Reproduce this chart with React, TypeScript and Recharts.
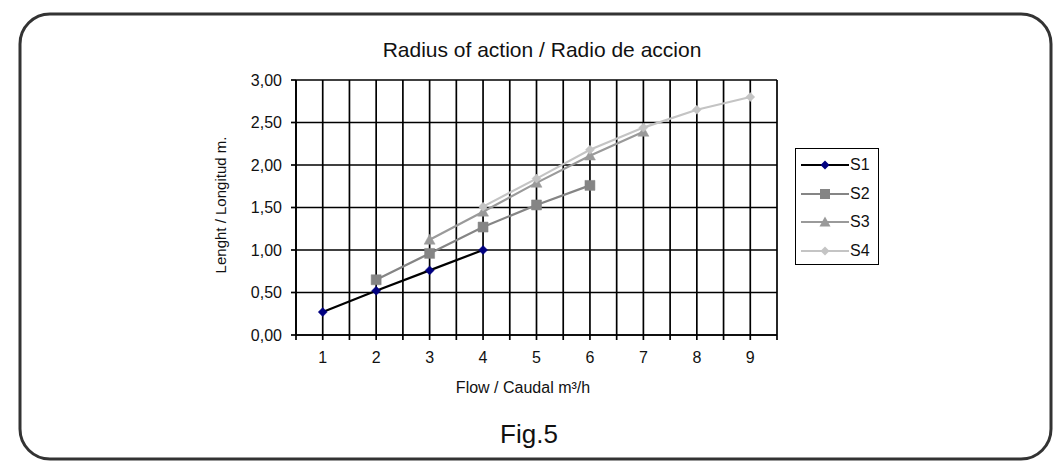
import React from 'react';
import { LineChart, Line, XAxis, YAxis, CartesianGrid, Legend } from 'recharts';

const categories = [1, 2, 3, 4, 5, 6, 7, 8, 9];
const s1Values: (number | null)[] = [0.27, 0.52, 0.76, 1.0, null, null, null, null, null];
const s2Values: (number | null)[] = [null, 0.65, 0.96, 1.27, 1.53, 1.76, null, null, null];
const s3Values: (number | null)[] = [null, null, 1.12, 1.45, 1.79, 2.11, 2.39, null, null];
const s4Values: (number | null)[] = [null, null, null, 1.51, 1.84, 2.18, 2.44, 2.65, 2.8];
const xTicks = [0.5, 1, 1.5, 2, 2.5, 3, 3.5, 4, 4.5, 5, 5.5, 6, 6.5, 7, 7.5, 8, 8.5, 9, 9.5];
const yTicks = [0, 0.5, 1, 1.5, 2, 2.5, 3];

const data = categories.map((c, i) => ({
  x: c,
  S1: s1Values[i],
  S2: s2Values[i],
  S3: s3Values[i],
  S4: s4Values[i],
}));

const FONT = '"Liberation Sans", Arial, sans-serif';

const series = [
  { key: 'S1', stroke: '#000000', fill: '#000080', shape: 'diamond', size: 4.5 },
  { key: 'S2', stroke: '#858585', fill: '#858585', shape: 'square', size: 5 },
  { key: 'S3', stroke: '#9a9a9a', fill: '#9a9a9a', shape: 'triangle', size: 5.5 },
  { key: 'S4', stroke: '#c4c4c4', fill: '#c4c4c4', shape: 'diamond', size: 4.5 },
];

function markerPath(shape: string, cx: number, cy: number, r: number) {
  if (shape === 'diamond') return `M${cx},${cy - r}L${cx + r},${cy}L${cx},${cy + r}L${cx - r},${cy}Z`;
  if (shape === 'square') return `M${cx - r},${cy - r}H${cx + r}V${cy + r}H${cx - r}Z`;
  return `M${cx},${cy - r}L${cx + r},${cy + r * 0.8}L${cx - r},${cy + r * 0.8}Z`;
}

const makeDot = (s: typeof series[number]) => (props: any) => {
  const { cx, cy, index, value } = props;
  if (value == null || cx == null || cy == null) return <g key={`${s.key}-${index}`} />;
  return <path key={`${s.key}-${index}`} d={markerPath(s.shape, cx, cy, s.size)} fill={s.fill} stroke={s.fill} strokeWidth={0.5} />;
};

const LegendBox = () => (
  <div style={{ position: 'relative', width: 84, height: 117, border: '1.5px solid #000', boxSizing: 'border-box', background: '#fff', fontFamily: FONT, fontSize: 16 }}>
    {series.map((s, i) => (
      <div key={s.key} style={{ position: 'absolute', left: 5, top: 6 + i * 28.5, height: 20, display: 'flex', alignItems: 'center' }}>
        <svg width={48} height={20}>
          <line x1={0} y1={10} x2={48} y2={10} stroke={s.stroke} strokeWidth={2} />
          <path d={markerPath(s.shape, 24, 10, s.size)} fill={s.fill} />
        </svg>
        <span style={{ marginLeft: 1, color: '#111' }}>{s.key}</span>
      </div>
    ))}
  </div>
);

export default function App() {
  return (
    <div style={{ position: 'absolute', left: 0, top: 0, width: 1057, height: 462, background: '#fff' }}>
      <svg width={1057} height={462} style={{ position: 'absolute', left: 0, top: 0 }}>
        <rect x={20} y={14} width={1031} height={445} rx={30} ry={30} fill="#fff" stroke="#333" strokeWidth={3} />
      </svg>
      <div style={{ position: 'absolute', left: 0, top: 0 }}>
        <LineChart width={1057} height={462} data={data} margin={{ top: 80, right: 196, bottom: 97, left: 236 }}>
          <CartesianGrid stroke="#000" strokeWidth={1.7} horizontal vertical />
          <XAxis
            dataKey="x"
            type="number"
            domain={[0.5, 9.5]}
            ticks={xTicks}
            interval={0}
            allowDecimals
            tickFormatter={(v: number) => (Number.isInteger(v) ? String(v) : '')}
            tick={{ fill: '#111', fontSize: 16, fontFamily: FONT }}
            axisLine={{ stroke: '#000', strokeWidth: 1.7 }}
            tickLine={{ stroke: '#000', strokeWidth: 1.7 }}
            tickSize={5}
            tickMargin={12}
            height={30}
          />
          <YAxis
            type="number"
            domain={[0, 3]}
            ticks={yTicks}
            interval={0}
            tickFormatter={(v: number) => v.toFixed(2).replace('.', ',')}
            tick={{ fill: '#111', fontSize: 16, fontFamily: FONT }}
            axisLine={{ stroke: '#000', strokeWidth: 1.7 }}
            tickLine={{ stroke: '#000', strokeWidth: 1.7 }}
            tickSize={5}
            tickMargin={9}
            width={60}
          />
          <Legend
            layout="vertical"
            verticalAlign="top"
            align="right"
            content={() => <LegendBox />}
            wrapperStyle={{ position: 'absolute', left: 795, top: 148, width: 84, height: 117 }}
          />
          {series.map((s) => (
            <Line
              key={s.key}
              dataKey={s.key}
              type="linear"
              stroke={s.stroke}
              strokeWidth={2.2}
              dot={makeDot(s)}
              activeDot={false}
              connectNulls={false}
              isAnimationActive={false}
            />
          ))}
        </LineChart>
      </div>
      <svg width={1057} height={462} style={{ position: 'absolute', left: 0, top: 0, pointerEvents: 'none' }}>
        <text x={542} y={57} textAnchor="middle" fontFamily={FONT} fontSize={21} fill="#111">Radius of action / Radio de accion</text>
        <text x={0} y={0} transform="translate(226,205) rotate(-90)" textAnchor="middle" fontFamily={FONT} fontSize={15} fill="#111">Lenght / Longitud m.</text>
        <text x={523} y={393} textAnchor="middle" fontFamily={FONT} fontSize={16} fill="#111">Flow / Caudal m³/h</text>
        <text x={529} y={443} textAnchor="middle" fontFamily={FONT} fontSize={26} fill="#111">Fig.5</text>
      </svg>
    </div>
  );
}
